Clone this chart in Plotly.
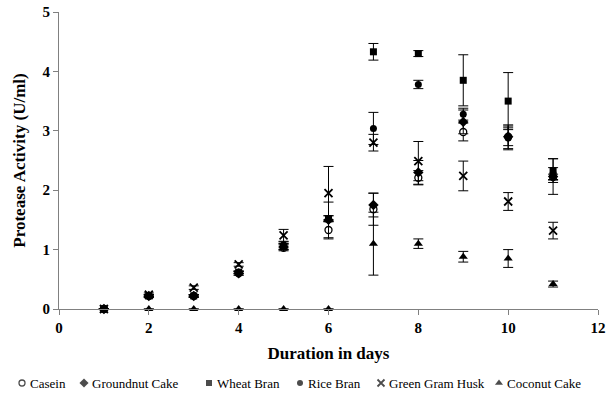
import plotly.graph_objects as go

days = [1, 2, 3, 4, 5, 6, 7, 8, 9, 10, 11]

casein = [0, 0.22, 0.22, 0.60, 1.03, 1.33, 1.68, 2.21, 2.98, 2.90, 2.22]
casein_err = [0, 0.02, 0.02, 0.03, 0.05, 0.15, 0.27, 0.12, 0.15, 0.20, 0.05]

groundnut = [0, 0.22, 0.22, 0.60, 1.05, 1.50, 1.75, 2.30, 3.15, 2.90, 2.23]
groundnut_err = [0, 0.02, 0.02, 0.03, 0.05, 0.30, 0.20, 0.20, 0.20, 0.15, 0.30]

wheat = [0, 0.22, 0.22, 0.62, 1.05, 1.52, 4.33, 4.30, 3.85, 3.50, 2.33]
wheat_err = [0, 0.02, 0.02, 0.02, 0.05, 0.05, 0.14, 0.05, 0.43, 0.48, 0.20]

rice = [0, 0.22, 0.22, 0.62, 1.08, 1.52, 3.04, 3.78, 3.28, 2.88, 2.28]
rice_err = [0, 0.02, 0.02, 0.02, 0.05, 0.05, 0.27, 0.07, 0.10, 0.20, 0.10]

ggh = [0, 0.24, 0.36, 0.75, 1.24, 1.95, 2.80, 2.49, 2.24, 1.81, 1.32]
ggh_err = [0, 0.03, 0.03, 0.03, 0.10, 0.45, 0.14, 0.33, 0.25, 0.15, 0.14]

coconut = [0, 0, 0, 0, 0, 0, 1.10, 1.10, 0.88, 0.85, 0.42]
coconut_err = [0, 0, 0, 0, 0, 0, 0.53, 0.08, 0.09, 0.15, 0.05]

names = ["Casein", "Groundnut Cake", "Wheat Bran", "Rice Bran", "Green Gram Husk", "Coconut Cake"]
values = [casein, groundnut, wheat, rice, ggh, coconut]
errors = [casein_err, groundnut_err, wheat_err, rice_err, ggh_err, coconut_err]

# marker styles
symbols = ["circle", "diamond", "square", "circle", "x-thin-open", "triangle-up"]
fills = ["white", "black", "black", "black", "black", "black"]
sizes = [7, 8, 7, 7, 8, 8]
line_w = [1.3, 0, 0, 0, 1.8, 0]

# legend layout (pixel positions of the hand-built legend)
leg_sym_x = [22, 84, 209, 300, 381, 499]
leg_txt_gap = 6
leg_y = 383

PLOT_L, PLOT_R, PLOT_T, PLOT_B = 59, 598, 12, 309
W, H = 606, 407

font_family = "Times New Roman, Liberation Serif, serif"

fig = go.Figure()
for i, name in enumerate(names):
    fig.add_trace(go.Scatter(
        x=days, y=values[i], name=name, mode="markers",
        marker=dict(symbol=symbols[i], color=fills[i], size=sizes[i],
                    line=dict(color="black", width=line_w[i])),
        error_y=dict(type="data", array=errors[i], color="black", thickness=1, width=5),
        cliponaxis=False, showlegend=False,
    ))

# legend symbols on a full-figure pixel-coordinate axis pair
fig.add_trace(go.Scatter(
    x=leg_sym_x, y=[leg_y] * len(names), mode="markers", xaxis="x2", yaxis="y2",
    marker=dict(symbol=symbols, color=fills, size=[s - 1 for s in sizes],
                line=dict(color="black", width=line_w)),
    cliponaxis=False, showlegend=False, hoverinfo="skip",
))
for i, name in enumerate(names):
    fig.add_annotation(x=leg_sym_x[i] + leg_txt_gap, y=leg_y, xref="x2", yref="y2", text=name,
                       showarrow=False, xanchor="left", yanchor="middle",
                       font=dict(size=13, family=font_family, color="black"))

fig.update_layout(
    width=W, height=H,
    margin=dict(l=0, r=0, t=0, b=0, autoexpand=False),
    paper_bgcolor="white", plot_bgcolor="rgba(0,0,0,0)",
    font=dict(family=font_family, color="black"),
    showlegend=False,
    xaxis=dict(domain=[PLOT_L / W, PLOT_R / W], anchor="y",
               range=[0, 12], tickvals=[0, 2, 4, 6, 8, 10, 12], showgrid=False,
               zeroline=False, showline=True, linecolor="#808080", linewidth=1,
               ticks="outside", ticklen=5, tickcolor="#808080", automargin=False,
               tickfont=dict(size=15, family=font_family, weight="bold"),
               title=dict(text="<b>Duration in days</b>", font=dict(size=17, family=font_family),
                          standoff=12)),
    yaxis=dict(domain=[(H - PLOT_B) / H, (H - PLOT_T) / H], anchor="x",
               range=[0, 5], tickvals=[0, 1, 2, 3, 4, 5], showgrid=False,
               zeroline=False, showline=True, linecolor="#808080", linewidth=1,
               ticks="outside", ticklen=5, tickcolor="#808080", automargin=False,
               tickfont=dict(size=15, family=font_family, weight="bold"),
               title=dict(text="<b>Protease Activity (U/ml)</b>", font=dict(size=17, family=font_family),
                          standoff=12)),
    xaxis2=dict(domain=[0, 1], anchor="y2", range=[0, W], visible=False, fixedrange=True),
    yaxis2=dict(domain=[0, 1], anchor="x2", range=[H, 0], visible=False, fixedrange=True),
)

fig.write_html("out.html")
